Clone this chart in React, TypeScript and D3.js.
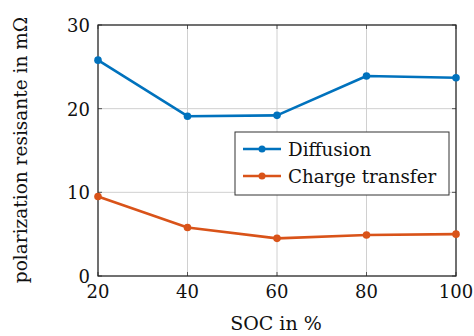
import React from "react";
import * as d3 from "d3";

const soc = [20, 40, 60, 80, 100];
const diffusion = [25.8, 19.1, 19.2, 23.9, 23.7];
const chargeTransfer = [9.5, 5.8, 4.5, 4.9, 5.0];
const xTicks = [20, 40, 60, 80, 100];
const yTicks = [0, 10, 20, 30];
const seriesNames = ["Diffusion", "Charge transfer"];
const colors = ["#0072BD", "#D95319"];

const W = 474, H = 336;
const L = 98, R = 456, T = 25, B = 276;
const FONT = "DejaVu Serif";

export default function App() {
  const x = d3.scaleLinear().domain([20, 100]).range([L, R]);
  const y = d3.scaleLinear().domain([0, 30]).range([B, T]);
  const line = d3.line<number>().x((_, i) => x(soc[i])).y((d) => y(d));
  const series = [diffusion, chargeTransfer];
  return (
    <svg width={W} height={H} style={{ position: "absolute", left: 0, top: 0, background: "#fff" }}>
      <rect x={0} y={0} width={W} height={H} fill="#fff" />
      {xTicks.map((t) => (
        <line key={"gx" + t} x1={x(t)} x2={x(t)} y1={T} y2={B} stroke="#d0d0d0" strokeWidth={1} />
      ))}
      {yTicks.map((t) => (
        <line key={"gy" + t} x1={L} x2={R} y1={y(t)} y2={y(t)} stroke="#d0d0d0" strokeWidth={1} />
      ))}
      {xTicks.map((t) => (
        <g key={"tx" + t}>
          <line x1={x(t)} x2={x(t)} y1={B} y2={B - 4} stroke="#555" />
          <line x1={x(t)} x2={x(t)} y1={T} y2={T + 4} stroke="#555" />
          <text x={x(t)} y={298} textAnchor="middle" fontFamily={FONT} fontSize={18} fill="#111">{t}</text>
        </g>
      ))}
      {yTicks.map((t) => (
        <g key={"ty" + t}>
          <line x1={L} x2={L + 4} y1={y(t)} y2={y(t)} stroke="#555" />
          <line x1={R} x2={R - 4} y1={y(t)} y2={y(t)} stroke="#555" />
          <text x={90} y={y(t) + 7} textAnchor="end" fontFamily={FONT} fontSize={18} fill="#111">{t}</text>
        </g>
      ))}
      <rect x={L} y={T} width={R - L} height={B - T} fill="none" stroke="#222" strokeWidth={1.2} />
      {series.map((s, si) => (
        <g key={"s" + si}>
          <path d={line(s) || ""} fill="none" stroke={colors[si]} strokeWidth={2.6} strokeLinejoin="round" />
          {s.map((v, i) => (
            <circle key={i} cx={x(soc[i])} cy={y(v)} r={3.8} fill={colors[si]} />
          ))}
        </g>
      ))}
      <rect x={235} y={132} width={214} height={63} fill="#fff" stroke="#333" strokeWidth={1} />
      {seriesNames.map((n, i) => (
        <g key={"l" + i}>
          <line x1={243} x2={281} y1={149 + i * 27} y2={149 + i * 27} stroke={colors[i]} strokeWidth={2.6} />
          <circle cx={262} cy={149 + i * 27} r={3.5} fill={colors[i]} />
          <text x={288} y={156 + i * 27} fontFamily={FONT} fontSize={18.3} fill="#111">{n}</text>
        </g>
      ))}
      <text x={276} y={330} textAnchor="middle" fontFamily={FONT} fontSize={19} fill="#111">SOC in %</text>
      <text transform="translate(27,150) rotate(-90)" textAnchor="middle" fontFamily={FONT} fontSize={18.5} fill="#111">polarization resisante in mΩ</text>
    </svg>
  );
}
